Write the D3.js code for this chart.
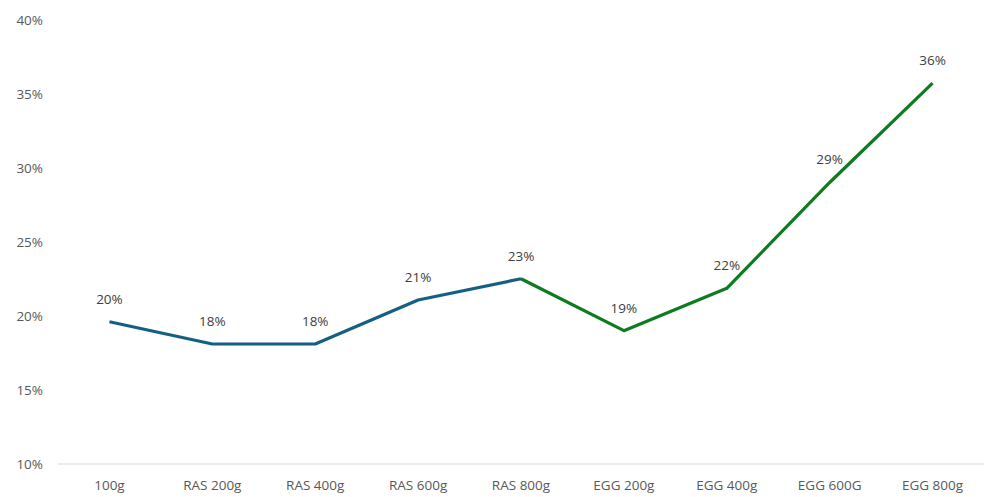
<!DOCTYPE html>
<html>
<head>
<meta charset="utf-8">
<script src="https://cdn.jsdelivr.net/npm/d3@7"></script>
<style>
  html, body { margin: 0; padding: 0; background: #fff; }
  svg { display: block; font-family: "Open Sans", "Liberation Sans", sans-serif; }
</style>
</head>
<body>
<svg id="chart" width="984" height="497"></svg>
<script>
const categories = ["100g", "RAS 200g", "RAS 400g", "RAS 600g", "RAS 800g", "EGG 200g", "EGG 400g", "EGG 600G", "EGG 800g"];
const values = [19.6, 18.1, 18.1, 21.07, 22.5, 19.0, 21.86, 29.0, 35.7];
const valueLabels = ["20%", "18%", "18%", "21%", "23%", "19%", "22%", "29%", "36%"];
const rasIndices = [0, 1, 2, 3, 4];
const eggIndices = [4, 5, 6, 7, 8];
const yTicks = [10, 15, 20, 25, 30, 35, 40];

const svg = d3.select("#chart");
const x = d3.scaleBand().domain(categories).range([58, 984]).padding(0);
const y = d3.scaleLinear().domain([10, 40]).range([464, 19.5]);
const cx = c => x(c) + x.bandwidth() / 2;

// y tick labels
svg.append("g").selectAll("text").data(yTicks).join("text")
  .attr("x", 43).attr("y", d => y(d))
  .attr("text-anchor", "end").attr("dominant-baseline", "central")
  .attr("font-size", 13.5).attr("fill", "#595959")
  .text(d => d + "%");

// x axis line
svg.append("line")
  .attr("x1", x.range()[0]).attr("x2", x.range()[1])
  .attr("y1", y(10)).attr("y2", y(10))
  .attr("stroke", "#d9d9d9").attr("stroke-width", 1.2);

// x tick labels
svg.append("g").selectAll("text").data(categories).join("text")
  .attr("x", d => cx(d)).attr("y", 490)
  .attr("text-anchor", "middle")
  .attr("font-size", 13.5).attr("fill", "#595959")
  .text(d => d);

const line = d3.line().x(i => cx(categories[i])).y(i => y(values[i]));

svg.append("path").datum(rasIndices)
  .attr("d", line).attr("fill", "none")
  .attr("stroke", "#156082").attr("stroke-width", 3.2)
  .attr("stroke-linejoin", "round");

svg.append("path").datum(eggIndices)
  .attr("d", line).attr("fill", "none")
  .attr("stroke", "#0f7b1f").attr("stroke-width", 3.2)
  .attr("stroke-linejoin", "round");

// data labels
svg.append("g").selectAll("text").data(categories).join("text")
  .attr("x", d => cx(d))
  .attr("y", (d, i) => y(values[i]) - 23)
  .attr("text-anchor", "middle").attr("dominant-baseline", "central")
  .attr("font-size", 13.5).attr("fill", "#404040")
  .text((d, i) => valueLabels[i]);
</script>
</body>
</html>
